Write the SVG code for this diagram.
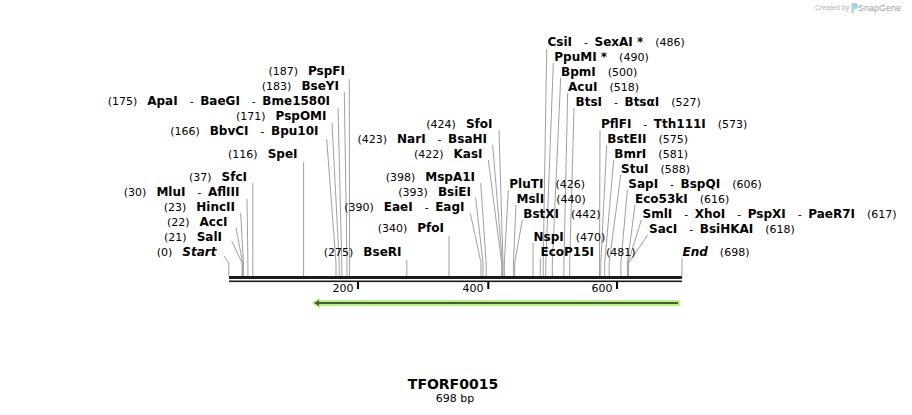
<svg xmlns="http://www.w3.org/2000/svg" width="912" height="415" viewBox="0 0 912 415">
<style>
text{font-family:"DejaVu Sans",Verdana,sans-serif;fill:#000}
.l{text-anchor:end}
.b{font-weight:bold;font-size:12px}
.i{font-weight:bold;font-style:italic;font-size:12px}
.n{font-size:11px}
.cut{fill:none;stroke:#a0a0a0;stroke-width:1}
</style>
<rect width="912" height="415" fill="#fff"/>
<g id="logo">
<text x="815" y="10" style="font-family:'Liberation Sans',Arial,sans-serif;font-size:7px;fill:#b4b4b4">Created by</text>
<path d="M851.5,3 h3.5 a3,3 0 0 1 0,6 h-1.2 v4 h-2.3 z" fill="#9fd3ef"/>
<text x="858" y="11" style="font-family:'Liberation Sans',Arial,sans-serif;font-size:9px;fill:#a3a3a3">SnapGene</text>
</g>
<g id="connectors">
<path class="cut" d="M224,256 L228.8,263 V276"/>
<path class="cut" d="M231.7,241 L242.1,263 V276"/>
<path class="cut" d="M236,227.7 L242.7,263 V276"/>
<path class="cut" d="M240.7,213 L243.4,263 V276"/>
<path class="cut" d="M247,199 L247.9,263 V276"/>
<path class="cut" d="M252.8,183 V276"/>
<path class="cut" d="M303.6,162 V276"/>
<path class="cut" d="M326.7,139 L336,263 V276"/>
<path class="cut" d="M332,123 L339.2,263 V276"/>
<path class="cut" d="M338,108 L341.8,263 V276"/>
<path class="cut" d="M344.3,92 L347,263 V276"/>
<path class="cut" d="M349.3,79 L349.6,263 V276"/>
<path class="cut" d="M406.8,260 V276"/>
<path class="cut" d="M449,236 V276"/>
<path class="cut" d="M470.3,213 L481,263 V276"/>
<path class="cut" d="M475.7,198 L483,263 V276"/>
<path class="cut" d="M480.7,183 L486.2,263 V276"/>
<path class="cut" d="M488.3,160 L501.7,263 V276"/>
<path class="cut" d="M492.7,145 L502.4,263 V276"/>
<path class="cut" d="M499,130 L503,263 V276"/>
<path class="cut" d="M508.3,190 L504.3,263 V276"/>
<path class="cut" d="M516,205 L513.4,263 V276"/>
<path class="cut" d="M522.3,220 L514.7,263 V276"/>
<path class="cut" d="M533,243 V276"/>
<path class="cut" d="M540.3,258 V276"/>
<path class="cut" d="M546.7,49 L543.2,263 V276"/>
<path class="cut" d="M553.3,63 L545.8,263 V276"/>
<path class="cut" d="M560.7,78 L552.3,263 V276"/>
<path class="cut" d="M567.7,93 L563.9,263 V276"/>
<path class="cut" d="M574,108 L569.7,263 V276"/>
<path class="cut" d="M600,130 L599.5,263 V276"/>
<path class="cut" d="M606.7,145 L600.8,263 V276"/>
<path class="cut" d="M613.7,160 L604.7,263 V276"/>
<path class="cut" d="M620.7,175 L609.2,263 V276"/>
<path class="cut" d="M627.3,190 L620.9,263 V276"/>
<path class="cut" d="M635,205 L627.4,263 V276"/>
<path class="cut" d="M641.3,220 L628,263 V276"/>
<path class="cut" d="M647.7,235 L628.6,263 V276"/>
<path class="cut" d="M682,258 V276"/>
</g>
<g id="backbone">
<rect x="229" y="276" width="453" height="3" fill="#1a1a1a"/>
<rect x="229" y="280.5" width="453" height="1.6" fill="#1a1a1a"/>
<rect x="357" y="282" width="2" height="7" fill="#000"/>
<rect x="487.3" y="282" width="2" height="7" fill="#000"/>
<rect x="616" y="282" width="2" height="7" fill="#000"/>
<text x="353.5" y="292" class="l n">200</text>
<text x="483.5" y="292" class="l n">400</text>
<text x="612.5" y="292" class="l n">600</text>
</g>
<g id="feature">
<polygon points="311.5,303 320,297.5 320,300 680,300 680,306 320,306 320,308.5" fill="#b6f27e"/>
<polygon points="314,303 319,300 319,302 678,302 678,304 319,304 319,306" fill="#4a5b3d"/>
</g>
<g id="labels-left">
<text x="216.5" y="256" class="l"><tspan class="n">(0)</tspan><tspan class="i" dx="10">Start</tspan></text>
<text x="222" y="241" class="l"><tspan class="n">(21)</tspan><tspan class="b" dx="10">SalI</tspan></text>
<text x="227.5" y="226" class="l"><tspan class="n">(22)</tspan><tspan class="b" dx="10">AccI</tspan></text>
<text x="235" y="211" class="l"><tspan class="n">(23)</tspan><tspan class="b" dx="10">HincII</tspan></text>
<text x="239.5" y="196" class="l"><tspan class="n">(30)</tspan><tspan class="b" dx="10">MluI</tspan><tspan class="n" dx="12">-</tspan><tspan class="b" dx="6.5">AflIII</tspan></text>
<text x="247" y="181" class="l"><tspan class="n">(37)</tspan><tspan class="b" dx="10">SfcI</tspan></text>
<text x="297.5" y="158" class="l"><tspan class="n">(116)</tspan><tspan class="b" dx="10">SpeI</tspan></text>
<text x="318.5" y="135" class="l"><tspan class="n">(166)</tspan><tspan class="b" dx="10">BbvCI</tspan><tspan class="n" dx="12">-</tspan><tspan class="b" dx="6.5">Bpu10I</tspan></text>
<text x="326.5" y="120" class="l"><tspan class="n">(171)</tspan><tspan class="b" dx="10">PspOMI</tspan></text>
<text x="330" y="105" class="l"><tspan class="n">(175)</tspan><tspan class="b" dx="10">ApaI</tspan><tspan class="n" dx="12">-</tspan><tspan class="b" dx="6.5">BaeGI</tspan><tspan class="n" dx="12">-</tspan><tspan class="b" dx="6.5">Bme1580I</tspan></text>
<text x="339" y="90" class="l"><tspan class="n">(183)</tspan><tspan class="b" dx="10">BseYI</tspan></text>
<text x="345" y="75" class="l"><tspan class="n">(187)</tspan><tspan class="b" dx="10">PspFI</tspan></text>
<text x="401.5" y="256" class="l"><tspan class="n">(275)</tspan><tspan class="b" dx="10">BseRI</tspan></text>
<text x="444" y="232" class="l"><tspan class="n">(340)</tspan><tspan class="b" dx="10">PfoI</tspan></text>
<text x="464.5" y="211" class="l"><tspan class="n">(390)</tspan><tspan class="b" dx="10">EaeI</tspan><tspan class="n" dx="12">-</tspan><tspan class="b" dx="6.5">EagI</tspan></text>
<text x="471" y="196" class="l"><tspan class="n">(393)</tspan><tspan class="b" dx="10">BsiEI</tspan></text>
<text x="475" y="181" class="l"><tspan class="n">(398)</tspan><tspan class="b" dx="10">MspA1I</tspan></text>
<text x="482.5" y="158" class="l"><tspan class="n">(422)</tspan><tspan class="b" dx="10">KasI</tspan></text>
<text x="487" y="143" class="l"><tspan class="n">(423)</tspan><tspan class="b" dx="10">NarI</tspan><tspan class="n" dx="12">-</tspan><tspan class="b" dx="6.5">BsaHI</tspan></text>
<text x="492.5" y="128" class="l"><tspan class="n">(424)</tspan><tspan class="b" dx="10">SfoI</tspan></text>
</g>
<g id="labels-right">
<text x="547.5" y="45.5"><tspan class="b">CsiI</tspan><tspan class="n" dx="12">-</tspan><tspan class="b" dx="6.5">SexAI *</tspan><tspan class="n" dx="12">(486)</tspan></text>
<text x="554.3" y="60.5"><tspan class="b">PpuMI *</tspan><tspan class="n" dx="12">(490)</tspan></text>
<text x="561" y="75.5"><tspan class="b">BpmI</tspan><tspan class="n" dx="12">(500)</tspan></text>
<text x="568" y="90.5"><tspan class="b">AcuI</tspan><tspan class="n" dx="12">(518)</tspan></text>
<text x="575.5" y="105.5"><tspan class="b">BtsI</tspan><tspan class="n" dx="12">-</tspan><tspan class="b" dx="6.5">BtsαI</tspan><tspan class="n" dx="12">(527)</tspan></text>
<text x="601" y="128"><tspan class="b">PflFI</tspan><tspan class="n" dx="12">-</tspan><tspan class="b" dx="6.5">Tth111I</tspan><tspan class="n" dx="12">(573)</tspan></text>
<text x="607.3" y="143"><tspan class="b">BstEII</tspan><tspan class="n" dx="12">(575)</tspan></text>
<text x="614.3" y="158"><tspan class="b">BmrI</tspan><tspan class="n" dx="12">(581)</tspan></text>
<text x="621" y="173"><tspan class="b">StuI</tspan><tspan class="n" dx="12">(588)</tspan></text>
<text x="628.3" y="188"><tspan class="b">SapI</tspan><tspan class="n" dx="12">-</tspan><tspan class="b" dx="6.5">BspQI</tspan><tspan class="n" dx="12">(606)</tspan></text>
<text x="635" y="203"><tspan class="b">Eco53kI</tspan><tspan class="n" dx="12">(616)</tspan></text>
<text x="642.5" y="218"><tspan class="b">SmlI</tspan><tspan class="n" dx="12">-</tspan><tspan class="b" dx="6.5">XhoI</tspan><tspan class="n" dx="12">-</tspan><tspan class="b" dx="6.5">PspXI</tspan><tspan class="n" dx="12">-</tspan><tspan class="b" dx="6.5">PaeR7I</tspan><tspan class="n" dx="12">(617)</tspan></text>
<text x="649" y="233"><tspan class="b">SacI</tspan><tspan class="n" dx="12">-</tspan><tspan class="b" dx="6.5">BsiHKAI</tspan><tspan class="n" dx="12">(618)</tspan></text>
<text x="682.5" y="256"><tspan class="i">End</tspan><tspan class="n" dx="12">(698)</tspan></text>
<text x="509.3" y="188"><tspan class="b">PluTI</tspan><tspan class="n" dx="12">(426)</tspan></text>
<text x="516.5" y="203"><tspan class="b">MslI</tspan><tspan class="n" dx="12">(440)</tspan></text>
<text x="523.3" y="218"><tspan class="b">BstXI</tspan><tspan class="n" dx="12">(442)</tspan></text>
<text x="533.5" y="241"><tspan class="b">NspI</tspan><tspan class="n" dx="12">(470)</tspan></text>
<text x="540.5" y="256"><tspan class="b">EcoP15I</tspan><tspan class="n" dx="12">(481)</tspan></text>
</g>
<g id="title">
<text x="453" y="388.5" style="font-size:14px;font-weight:bold;text-anchor:middle">TFORF0015</text>
<text x="455" y="402" class="n" style="text-anchor:middle">698 bp</text>
</g>
</svg>
